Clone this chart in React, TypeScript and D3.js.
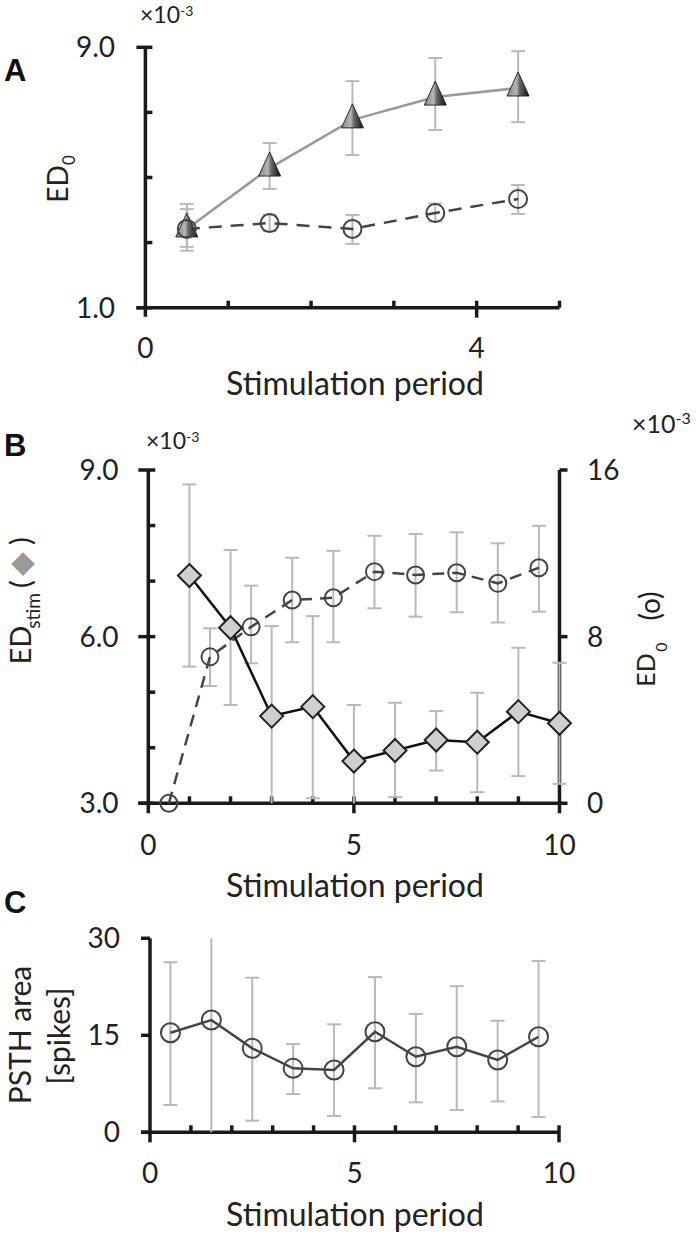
import React from "react";
import * as d3 from "d3";

// ---------- Data ----------
// Panel A
const periodsA = [0.5, 1.5, 2.5, 3.5, 4.5];
const triMean = [3.42, 5.29, 6.77, 7.47, 7.75];
const triHi = [4.19, 6.06, 7.96, 8.67, 8.88];
const triLo = [2.75, 4.65, 5.69, 6.46, 6.7];
const circA = [3.42, 3.6, 3.42, 3.91, 4.34];
const circAHi = [4.03, 3.85, 3.85, 4.2, 4.77];
const circALo = [2.87, 3.35, 2.96, 3.65, 3.88];
const yTicksA = [1, 3, 5, 7, 9];
const yLabelsA = ["1.0", "9.0"];
const xTicksA = [0, 1, 2, 3, 4, 5];
const xLabelsA = ["0", "4"];

// Panel B
const periodsDiamond = [1, 2, 3, 4, 5, 6, 7, 8, 9, 10];
const edStim = [7.1, 6.16, 4.57, 4.74, 3.76, 3.95, 4.14, 4.1, 4.65, 4.44];
const edStimHi = [8.74, 7.56, 6.19, 6.37, 4.77, 4.81, 4.66, 4.99, 5.8, 5.53];
const edStimLo = [5.46, 4.77, 2.9, 3.09, 2.9, 3.11, 3.59, 3.2, 3.49, 3.35];
const periodsCircB = [0.5, 1.5, 2.5, 3.5, 4.5, 5.5, 6.5, 7.5, 8.5, 9.5];
const ed0B = [0, 7.03, 8.47, 9.76, 9.87, 11.12, 10.96, 11.07, 10.56, 11.31];
const ed0BHi = [null, 8.4, 10.45, 11.79, 12.12, 12.84, 12.93, 13.01, 12.48, 13.32];
const ed0BLo = [null, 5.63, 6.72, 7.73, 7.73, 9.36, 8.96, 9.17, 8.68, 9.2];
const yTicksBL = [3, 4, 5, 6, 7, 8, 9];
const yLabelsBL = ["3.0", "6.0", "9.0"];
const yTicksBR = [0, 8, 16];
const xTicksB = [0, 1, 2, 3, 4, 5, 6, 7, 8, 9, 10];
const xLabelsB = ["0", "5", "10"];

// Panel C
const periodsC = [0.5, 1.5, 2.5, 3.5, 4.5, 5.5, 6.5, 7.5, 8.5, 9.5];
const psth = [15.4, 17.36, 12.98, 9.89, 9.63, 15.55, 11.69, 13.23, 11.18, 14.78];
const psthHi = [26.3, 30.2, 23.9, 13.65, 16.7, 24.0, 18.3, 22.6, 17.25, 26.5];
const psthLo = [4.22, -0.2, 1.8, 5.92, 2.52, 6.8, 4.63, 3.45, 4.78, 2.36];
const yTicksC = [0, 15, 30];
const xLabelsC = ["0", "5", "10"];

// ---------- Scales ----------
const xA = d3.scaleLinear().domain([0, 5]).range([145.4, 559.5]);
const yA = d3.scaleLinear().domain([1, 9]).range([307.7, 47.3]);
const xB = d3.scaleLinear().domain([0, 10]).range([148.3, 559.5]);
const yBL = d3.scaleLinear().domain([3, 9]).range([803.3, 470]);
const yBR = d3.scaleLinear().domain([0, 16]).range([803.3, 470]);
const xC = d3.scaleLinear().domain([0, 10]).range([150, 559]);
const yC = d3.scaleLinear().domain([0, 30]).range([1132.3, 938.3]);

const FONT = "Lato, 'Open Sans', sans-serif";
const BOLD = "'Liberation Sans', Arial, sans-serif";
const AX = "#1a1a1a";
const ERR = "#b9b9b9";
const TXT = "#222";
const AXW = 3.5;
const TICKF = 28;
const TITLEF = 32;

function ErrBars({ xs, hi, lo, x, y, dom }: any) {
  const [d0, d1] = dom;
  return (
    <g stroke={ERR} strokeWidth={2}>
      {xs.map((v: number, i: number) => {
        if (hi[i] == null || lo[i] == null) return null;
        const h = Math.min(hi[i], d1);
        const l = Math.max(lo[i], d0);
        const cx = x(v);
        return (
          <g key={i}>
            <line x1={cx} x2={cx} y1={y(h)} y2={y(l)} />
            {hi[i] < d1 && <line x1={cx - 7} x2={cx + 7} y1={y(hi[i])} y2={y(hi[i])} />}
            {lo[i] > d0 && <line x1={cx - 7} x2={cx + 7} y1={y(lo[i])} y2={y(lo[i])} />}
          </g>
        );
      })}
    </g>
  );
}

function Circles({ xs, ys, x, y, r, stroke }: any) {
  return (
    <g fill="none" stroke={stroke} strokeWidth={2}>
      {xs.map((v: number, i: number) => (
        <circle key={i} cx={x(v)} cy={y(ys[i])} r={r} />
      ))}
    </g>
  );
}

// rotated text piece: baseline at bx, centred on cy along the vertical
function VText({ bx, cy, size, children, fill = TXT, family = FONT }: any) {
  return (
    <text transform={`translate(${bx},${cy}) rotate(-90)`} fontSize={size} fill={fill}
      fontFamily={family} textAnchor="middle">{children}</text>
  );
}

export default function App() {
  const lineA = d3.line<number>().x((_, i) => xA(periodsA[i])).y((d) => yA(d));
  const lineBD = d3.line<number>().x((_, i) => xB(periodsDiamond[i])).y((d) => yBL(d));
  const lineBC = d3.line<number>().x((_, i) => xB(periodsCircB[i])).y((d) => yBR(d));
  const lineC = d3.line<number>().x((_, i) => xC(periodsC[i])).y((d) => yC(d));

  const axA0x = xA(0);
  const axA0y = yA(1);
  const axB0x = xB(0);
  const axBRx = xB(10);
  const axB0y = yBL(3);
  const axC0x = xC(0);
  const axC0y = yC(0);

  return (
    <div style={{ position: "absolute", left: 0, top: 0 }}>
      <svg width={696} height={1239} style={{ display: "block", background: "#fff" }} fontFamily={FONT}>
        <defs>
          <linearGradient id="triGrad" x1="0" y1="0" x2="1" y2="0">
            <stop offset="0%" stopColor="#858585" />
            <stop offset="42%" stopColor="#b5b5b5" />
            <stop offset="56%" stopColor="#6a6a6a" />
            <stop offset="100%" stopColor="#0d0d0d" />
          </linearGradient>
        </defs>

        {/* ================= Panel A ================= */}
        <text x={4} y={81} fontFamily={BOLD} fontWeight="bold" fontSize={31} fill="#111">A</text>
        <text x={140} y={23} fontSize={23} fill={TXT}>
          ×10<tspan fontSize={14} dy={-7}>-3</tspan>
        </text>
        <g stroke={AX} strokeWidth={AXW} fill="none">
          <line x1={axA0x} x2={axA0x} y1={yA(9)} y2={axA0y + 9} />
          <line x1={axA0x - 9} x2={xA(5)} y1={axA0y} y2={axA0y} />
          {yTicksA.map((t) => (
            <line key={t} x1={t === 9 || t === 1 ? axA0x - 9 : axA0x} x2={axA0x + 7} y1={yA(t)} y2={yA(t)} />
          ))}
          {xTicksA.filter((t) => t > 0).map((t) => (
            <line key={t} x1={xA(t)} x2={xA(t)} y1={axA0y - 7} y2={t === 4 ? axA0y + 10 : axA0y} />
          ))}
        </g>
        <g fontSize={TICKF} fill={TXT} textAnchor="end">
          {yLabelsA.map((l) => (
            <text key={l} x={115} y={yA(+l) + 10}>{l}</text>
          ))}
        </g>
        <g fontSize={TICKF} fill={TXT} textAnchor="middle">
          {xLabelsA.map((l) => (
            <text key={l} x={xA(+l)} y={358}>{l}</text>
          ))}
        </g>
        <text x={355} y={395} fontSize={TITLEF} fill={TXT} textAnchor="middle">Stimulation period</text>
        <VText bx={68} cy={184} size={28}>ED</VText>
        <VText bx={75} cy={160} size={17}>0</VText>
        <ErrBars xs={periodsA} hi={triHi} lo={triLo} x={xA} y={yA} dom={[1, 9]} />
        <ErrBars xs={periodsA} hi={circAHi} lo={circALo} x={xA} y={yA} dom={[1, 9]} />
        <path d={lineA(triMean) || ""} fill="none" stroke="#9a9a9a" strokeWidth={2.5} />
        <path d={lineA(circA) || ""} fill="none" stroke="#444" strokeWidth={2.5} strokeDasharray="13 9" />
        <g>
          {periodsA.map((p, i) => {
            const cx = xA(p);
            const cy = yA(triMean[i]);
            return (
              <path key={i} d={`M${cx},${cy - 16} L${cx + 11},${cy + 8} L${cx - 11},${cy + 8} Z`}
                fill="url(#triGrad)" stroke="#2a2a2a" strokeWidth={1} />
            );
          })}
        </g>
        <Circles xs={periodsA} ys={circA} x={xA} y={yA} r={9} stroke="#444" />

        {/* ================= Panel B ================= */}
        <text x={4} y={456} fontFamily={BOLD} fontWeight="bold" fontSize={31} fill="#111">B</text>
        <text x={146} y={449} fontSize={23} fill={TXT}>
          ×10<tspan fontSize={14} dy={-7}>-3</tspan>
        </text>
        <text x={632} y={433} fontSize={25} fill={TXT}>
          ×10<tspan fontSize={16} dy={-9}>-3</tspan>
        </text>
        <g stroke={AX} strokeWidth={AXW} fill="none">
          <line x1={axB0x} x2={axB0x} y1={yBL(9)} y2={axB0y + 10} />
          <line x1={axBRx} x2={axBRx} y1={yBR(16)} y2={axB0y + 10} />
          <line x1={axB0x - 10} x2={axBRx} y1={axB0y} y2={axB0y} />
          {yTicksBL.map((t) => (
            <line key={t} x1={t % 3 === 0 ? axB0x - 10 : axB0x} x2={axB0x + 7} y1={yBL(t)} y2={yBL(t)} />
          ))}
          {yTicksBR.map((t) => (
            <line key={t} x1={axBRx} x2={axBRx + 8} y1={yBR(t)} y2={yBR(t)} />
          ))}
          {xTicksB.filter((t) => t > 0 && t < 10).map((t) => (
            <line key={t} x1={xB(t)} x2={xB(t)} y1={axB0y - 7} y2={t === 5 ? axB0y + 10 : axB0y} />
          ))}
        </g>
        <g fontSize={TICKF} fill={TXT} textAnchor="end">
          {yLabelsBL.map((l) => (
            <text key={l} x={118.6} y={yBL(+l) + 10}>{l}</text>
          ))}
        </g>
        <g fontSize={TICKF} fill={TXT} textAnchor="start">
          {yTicksBR.map((t) => (
            <text key={t} x={587} y={yBR(t) + 10}>{t}</text>
          ))}
        </g>
        <g fontSize={TICKF} fill={TXT} textAnchor="middle">
          {xLabelsB.map((l) => (
            <text key={l} x={xB(+l)} y={855}>{l}</text>
          ))}
        </g>
        <text x={355} y={897} fontSize={TITLEF} fill={TXT} textAnchor="middle">Stimulation period</text>
        {/* left label: ED_stim ( ◆ ) */}
        <VText bx={31} cy={645} size={29}>ED</VText>
        <VText bx={40} cy={611} size={19}>stim</VText>
        <VText bx={31} cy={584} size={29}>(</VText>
        <VText bx={31} cy={564} size={31} fill="#9a9a9a" family="'DejaVu Sans', sans-serif">◆</VText>
        <VText bx={31} cy={541} size={29}>)</VText>
        {/* right label: ED_0 (o) */}
        <VText bx={655} cy={670} size={25}>ED</VText>
        <VText bx={667} cy={647} size={16}>0</VText>
        <VText bx={660} cy={606} size={28}>(o)</VText>
        <ErrBars xs={periodsDiamond} hi={edStimHi} lo={edStimLo} x={xB} y={yBL} dom={[3, 9]} />
        <ErrBars xs={periodsCircB} hi={ed0BHi} lo={ed0BLo} x={xB} y={yBR} dom={[0, 16]} />
        <path d={lineBC(ed0B) || ""} fill="none" stroke="#444" strokeWidth={2.5} strokeDasharray="12 8" />
        <path d={lineBD(edStim) || ""} fill="none" stroke="#111" strokeWidth={2.5} />
        <Circles xs={periodsCircB} ys={ed0B} x={xB} y={yBR} r={8.5} stroke="#444" />
        <g fill="#cfcfcf" stroke="#222" strokeWidth={2}>
          {periodsDiamond.map((p, i) => {
            const cx = xB(p);
            const cy = yBL(edStim[i]);
            return <path key={i} d={`M${cx},${cy - 11.5} L${cx + 11.5},${cy} L${cx},${cy + 11.5} L${cx - 11.5},${cy} Z`} />;
          })}
        </g>

        {/* ================= Panel C ================= */}
        <text x={4} y={913} fontFamily={BOLD} fontWeight="bold" fontSize={31} fill="#111">C</text>
        <g stroke={AX} strokeWidth={AXW} fill="none">
          <line x1={axC0x} x2={axC0x} y1={yC(30)} y2={axC0y + 10} />
          <line x1={axC0x - 9} x2={xC(10)} y1={axC0y} y2={axC0y} />
          {yTicksC.map((t) => (
            <line key={t} x1={axC0x - 9} x2={axC0x} y1={yC(t)} y2={yC(t)} />
          ))}
          {xTicksB.filter((t) => t > 0).map((t) => (
            <line key={t} x1={xC(t)} x2={xC(t)} y1={axC0y - 7} y2={t % 5 === 0 ? axC0y + 10 : axC0y} />
          ))}
        </g>
        <g fontSize={TICKF} fill={TXT} textAnchor="end">
          {yTicksC.map((t) => (
            <text key={t} x={120} y={yC(t) + 10}>{t}</text>
          ))}
        </g>
        <g fontSize={TICKF} fill={TXT} textAnchor="middle">
          {xLabelsC.map((l) => (
            <text key={l} x={xC(+l)} y={1183}>{l}</text>
          ))}
        </g>
        <text x={355} y={1226} fontSize={TITLEF} fill={TXT} textAnchor="middle">Stimulation period</text>
        <VText bx={31} cy={1035} size={30}>PSTH area</VText>
        <VText bx={70} cy={1036} size={30}>[spikes]</VText>
        <ErrBars xs={periodsC} hi={psthHi} lo={psthLo} x={xC} y={yC} dom={[0, 30]} />
        <path d={lineC(psth) || ""} fill="none" stroke="#444" strokeWidth={2.5} />
        <Circles xs={periodsC} ys={psth} x={xC} y={yC} r={9.5} stroke="#444" />
      </svg>
    </div>
  );
}
